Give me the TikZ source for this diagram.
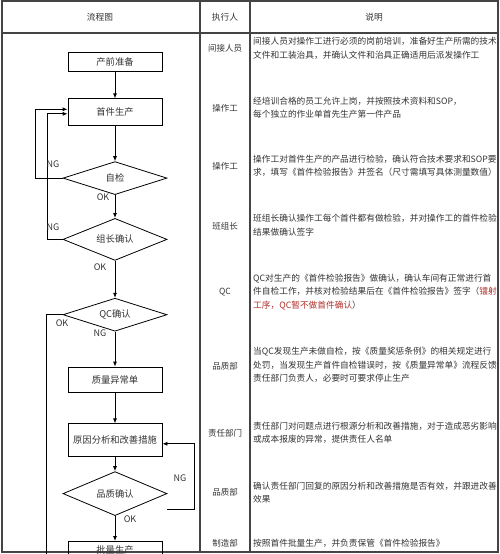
\documentclass[tikz,border=0pt]{standalone}
\usepackage{fontspec}
\setmainfont{Noto Sans CJK SC}
\usetikzlibrary{arrows.meta, positioning, calc, shapes.geometric}

\definecolor{inkgray}{HTML}{333333}
\definecolor{linegray}{HTML}{444444}
\definecolor{notered}{HTML}{B0302A}

\begin{document}
\begin{tikzpicture}[
    x=1pt, y=1pt,
    flowbox/.style={rectangle, draw=black, line width=0.8pt, minimum width=94pt, inner sep=0pt, font=\fontsize{9.3}{11}\selectfont, text=inkgray},
    check/.style={diamond, aspect=3, draw=black, line width=0.8pt, minimum width=104pt, inner sep=0pt, font=\fontsize{9.3}{11}\selectfont, text=inkgray},
    arrow/.style={-{Latex[length=5pt,width=4pt]}, line width=0.8pt},
    tag/.style={font=\fontsize{9}{11}\selectfont, text=inkgray, inner sep=1pt},
    head/.style={font=\fontsize{8.7}{11}\selectfont, text=inkgray},
    who/.style={font=\fontsize{8.5}{11}\selectfont, text=inkgray},
    note/.style={font=\fontsize{8.7}{13.5}\selectfont, text=inkgray, anchor=west, align=left, inner sep=0pt},
    tableline/.style={draw=linegray, line width=1.1pt}
]
    \useasboundingbox (0,0) rectangle (500,-554);

    % Spacing constants
    \def\colflow{200}
    \def\colwho{250}

    % Table frame
    \draw[tableline] (2,-1) rectangle (498,-552);
    \draw[tableline] (2,-33) -- (498,-33);
    \draw[tableline] (\colflow,-1) -- (\colflow,-552);
    \draw[tableline] (\colwho,-1) -- (\colwho,-552);

    % Header
    \node[head] (hdflow) at (100,-17) {流程图};
    \node[head] (hdwho) at (225,-17) {执行人};
    \node[head] (hddesc) at (374,-17) {说明};

    % Flow nodes
    \node[flowbox, minimum height=19pt] (prep) at (115,-61.5) {产前准备};
    \node[flowbox, minimum height=27pt, below=27pt of prep] (first) {首件生产};
    \node[check, minimum height=33pt, below=35pt of first] (self) {自检};
    \node[check, minimum height=42pt, below=23pt of self] (lead) {组长确认};
    \node[check, minimum height=33pt, below=37pt of lead] (qc) {QC确认};
    \node[flowbox, minimum height=25pt, below=35pt of qc] (abn) {质量异常单};
    \node[flowbox, minimum height=33pt, below=31pt of abn] (cause) {原因分析和改善措施};
    \node[check, minimum height=44pt, below=14pt of cause] (qual) {品质确认};
    \node[flowbox, minimum height=17pt, below=25pt of qual] (mass) {批量生产};

    % Main line
    \draw[arrow] (prep) -- (first);
    \draw[arrow] (first) -- (self);
    \draw[arrow] (self) -- (lead);
    \draw[arrow] (lead) -- (qc);
    \draw[arrow] (qc) -- (abn);
    \draw[arrow] (abn) -- (cause);
    \draw[arrow] (cause) -- (qual);
    \draw[arrow] (qual) -- (mass);

    % Loops back
    \draw[arrow] (self.west) -- ++(-27,0) |- ([yshift=3pt]first.west);
    \draw[arrow] (lead.west) -- ++(-15,0) |- ([yshift=-1.5pt]first.west);
    \draw[arrow] (qc.west) -- ++(-16,0) |- ([yshift=-7pt]mass.west);
    \draw[arrow] ([yshift=-16pt]qual.east) -- ++(27,0) |- ([yshift=-3.5pt]cause.east);

    % Branch tags
    \node[tag] (ngself) at (53,-164) {NG};
    \node[tag] (okself) at (103,-197) {OK};
    \node[tag] (nglead) at (53,-227) {NG};
    \node[tag] (oklead) at (100,-267) {OK};
    \node[tag] (okqc) at (62,-323) {OK};
    \node[tag] (ngqc) at (100,-333) {NG};
    \node[tag] (ngqual) at (180,-478) {NG};
    \node[tag] (okqual) at (130,-519) {OK};

    % Executor column
    \foreach \y/\name [count=\i] in {48/间接人员, 108/操作工, 166/操作工, 226/班组长, 292/QC, 366/品质部, 433/责任部门, 492/品质部, 543/制造部}
        \node[who] (who\i) at (225,-\y) {\name};

    % Descriptions
    \node[note] (desc1) at (253,-48.5) {间接人员对操作工进行必须的岗前培训，准备好生产所需的技术\\文件和工装治具，并确认文件和治具正确适用后派发操作工};
    \node[note] (desc2) at (253,-107.5) {经培训合格的员工允许上岗，并按照技术资料和SOP，\\每个独立的作业单首先生产第一件产品};
    \node[note] (desc3) at (253,-166) {操作工对首件生产的产品进行检验，确认符合技术要求和SOP要\\求，填写《首件检验报告》并签名（尺寸需填写具体测量数值）};
    \node[note] (desc4) at (253,-225) {班组长确认操作工每个首件都有做检验，并对操作工的首件检验\\结果做确认签字};
    \node[note] (desc5) at (253,-292) {QC对生产的《首件检验报告》做确认，确认车间有正常进行首\\件自检工作，并核对检验结果后在《首件检验报告》签字（\textcolor{notered}{镭射}\\\textcolor{notered}{工序，QC暂不做首件确认}）};
    \node[note] (desc6) at (253,-365) {当QC发现生产未做自检，按《质量奖惩条例》的相关规定进行\\处罚，当发现生产首件自检错误时，按《质量异常单》流程反馈\\责任部门负责人，必要时可要求停止生产};
    \node[note] (desc7) at (253,-433) {责任部门对问题点进行根源分析和改善措施，对于造成恶劣影响\\或成本报废的异常，提供责任人名单};
    \node[note] (desc8) at (253,-492.5) {确认责任部门回复的原因分析和改善措施是否有效，并跟进改善\\效果};
    \node[note] (desc9) at (253,-543) {按照首件批量生产，并负责保管《首件检验报告》};

\end{tikzpicture}
\end{document}
